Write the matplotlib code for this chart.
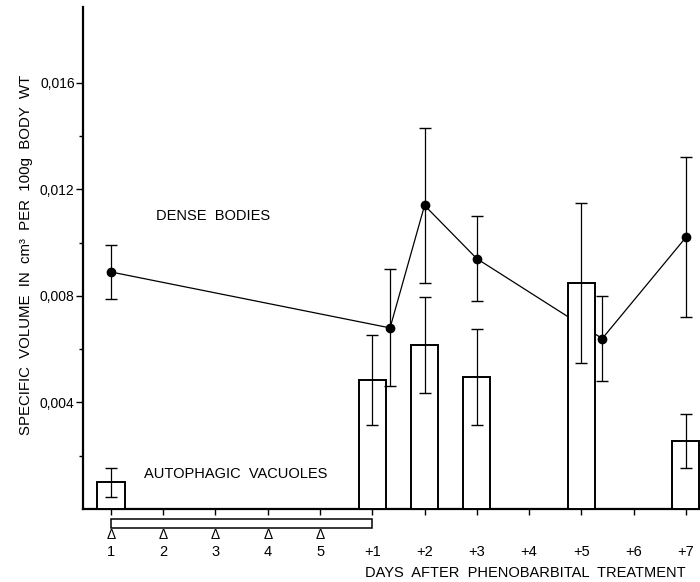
import matplotlib
matplotlib.use("Agg")
import matplotlib.pyplot as plt
from matplotlib.patches import Rectangle
from matplotlib.transforms import blended_transform_factory

plt.rcParams['font.family'] = ['Liberation Sans', 'DejaVu Sans']

# ---- data ----
days = ['1', '2', '3', '4', '5', '+1', '+2', '+3', '+4', '+5', '+6', '+7']
injection_days = ['1', '2', '3', '4', '5']

bar_days = ['1', '+1', '+2', '+3', '+5', '+7']
bar_vals = [0.00100, 0.00485, 0.00616, 0.00496, 0.00849, 0.00255]
bar_err = [0.00055, 0.00170, 0.00180, 0.00180, 0.00300, 0.00100]

dense_days = ['1', '+1', '+2', '+3', '+5', '+7']
dense_shift = [0.0, 0.34, 0.0, 0.0, 0.40, 0.0]
dense_vals = [0.00890, 0.00680, 0.01140, 0.00940, 0.00640, 0.01020]
dense_err = [0.00100, 0.00220, 0.00290, 0.00160, 0.00160, 0.00300]

yticks = [0.004, 0.008, 0.012, 0.016]
ytick_labels = ['0,004', '0,008', '0,012', '0,016']
yminor = [0.002, 0.006, 0.010, 0.014]

# ---- figure ----
fig = plt.figure(figsize=(7.0, 5.82), dpi=100)
ax = fig.add_axes([83 / 700, 73 / 582, 617 / 700, 502 / 582])

pos = {d: i for i, d in enumerate(days)}
xb = [pos[d] for d in bar_days]
xd = [pos[d] + s for d, s in zip(dense_days, dense_shift)]

ax.plot(xd, dense_vals, '-', color='black', lw=0.9, zorder=2)
ax.bar(xb, bar_vals, width=0.52, facecolor='white', edgecolor='black', lw=1.4, zorder=3)
ax.errorbar(xb, bar_vals, yerr=bar_err, fmt='none', ecolor='black', elinewidth=0.9,
            capsize=4, capthick=1.0, zorder=4)
ax.errorbar(xd, dense_vals, yerr=dense_err, fmt='none', ecolor='black', elinewidth=0.9,
            capsize=4, capthick=1.0, zorder=4)
ax.plot(xd, dense_vals, 'o', color='black', ms=6, zorder=5)

ax.set_xlim(-0.535, 11.27)
ax.set_ylim(0, 0.01885)

for s in ['top', 'right']:
    ax.spines[s].set_visible(False)
ax.spines['left'].set_linewidth(1.6)
ax.spines['bottom'].set_linewidth(1.6)

ax.set_yticks(yticks)
ax.set_yticklabels(ytick_labels, fontsize=10)
ax.set_yticks(yminor, minor=True)
ax.tick_params(axis='y', which='major', direction='out', length=5, width=1.0, pad=1)
ax.tick_params(axis='y', which='minor', direction='out', length=3, width=1.0)

ax.set_xticks(range(len(days)))
ax.set_xticklabels(days, fontsize=10.5)
ax.tick_params(axis='x', which='major', direction='out', length=4, width=1.0, pad=22)

trans = blended_transform_factory(ax.transData, ax.transAxes)
ax.add_patch(Rectangle((0, -0.0378), 5, 0.0179, transform=trans, fill=False,
                       lw=1.1, edgecolor='black', clip_on=False))
for d in injection_days:
    ax.text(pos[d], -0.052, 'Δ', transform=trans, ha='center', va='center', fontsize=10)

ax.text(1.95, 0.0110, 'DENSE  BODIES', ha='center', va='center', fontsize=10.5)
ax.text(2.39, 0.00133, 'AUTOPHAGIC  VACUOLES', ha='center', va='center', fontsize=10.5)

fig.text(686 / 700, 1 - 573 / 582, 'DAYS  AFTER  PHENOBARBITAL  TREATMENT',
         ha='right', va='center', fontsize=10.5)
fig.text(26 / 700, 1 - 255 / 582, 'SPECIFIC  VOLUME  IN  cm³  PER  100g  BODY  WT',
         ha='center', va='center', rotation=90, fontsize=10.8)

fig.savefig('out.png', dpi=100)
